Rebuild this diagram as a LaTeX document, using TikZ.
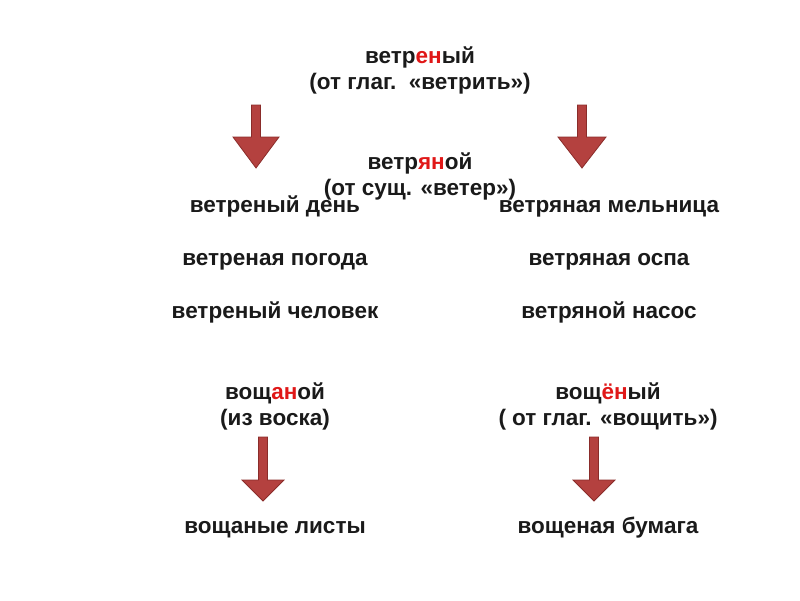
\documentclass[tikz,border=0pt]{standalone}
\usepackage{fontspec}
\setmainfont{Liberation Sans}
\usepackage{tikz}
\usetikzlibrary{positioning}

\definecolor{inktext}{HTML}{1A1A1A}
\definecolor{accent}{HTML}{E01818}
\definecolor{arrowfill}{HTML}{B4413F}
\definecolor{arrowline}{HTML}{8A2C2A}
\newcommand{\hl}[1]{\textcolor{accent}{#1}}

\begin{document}
\begin{tikzpicture}[
            x=1pt, y=-1pt,
            every node/.style={font=\bfseries\fontsize{22.5}{26}\selectfont, text=inktext, anchor=base, inner sep=0pt}, % all words
            note/.style={yshift=-26pt}, % second line under a word
            blockarrow/.style={draw=arrowline, fill=arrowfill, line width=0.8pt, line join=miter} % red arrows
            ]
        \useasboundingbox (0,0) rectangle (800,600);

        % top pair of words
        \node (vetren) at (420,63) {ветр\hl{ен}ый};
        \node[note] (vetrenNote) at (vetren.base) {(от глаг.\ \ «ветрить»)};
        \node (vetrjan) at (420,169) {ветр\hl{ян}ой};
        \node[note] (vetrjanNote) at (vetrjan.base) {(от сущ. «ветер»)};

        % examples, left and right
        \node (den)      at (275,212) {ветреный день};
        \node (pogoda)   at (275,265) {ветреная погода};
        \node (chelovek) at (275,318) {ветреный человек};
        \node (melnica)  at (609,212) {ветряная мельница};
        \node (ospa)     at (609,265) {ветряная оспа};
        \node (nasos)    at (609,318) {ветряной насос};

        % bottom pair of words
        \node (voshchan) at (275,399) {вощ\hl{ан}ой};
        \node[note] (voshchanNote) at (voshchan.base) {(из воска)};
        \node (voshchen) at (608,399) {вощ\hl{ён}ый};
        \node[note] (voshchenNote) at (voshchen.base) {( от глаг. «вощить»)};
        \node (listy)  at (275,533) {вощаные листы};
        \node (bumaga) at (608,533) {вощеная бумага};

        % arrows: x, top, head start, tip, head half width
        \foreach \x/\t/\h/\e/\w in {256/105/137/168/23, 582/105/137/168/24, 263/437/480/501/21, 594/437/480/501/21}
            \draw[blockarrow] (\x-4.5,\t) -- (\x+4.5,\t) -- (\x+4.5,\h) -- (\x+\w,\h)
                -- (\x,\e) -- (\x-\w,\h) -- (\x-4.5,\h) -- cycle;

    \end{tikzpicture}
\end{document}
